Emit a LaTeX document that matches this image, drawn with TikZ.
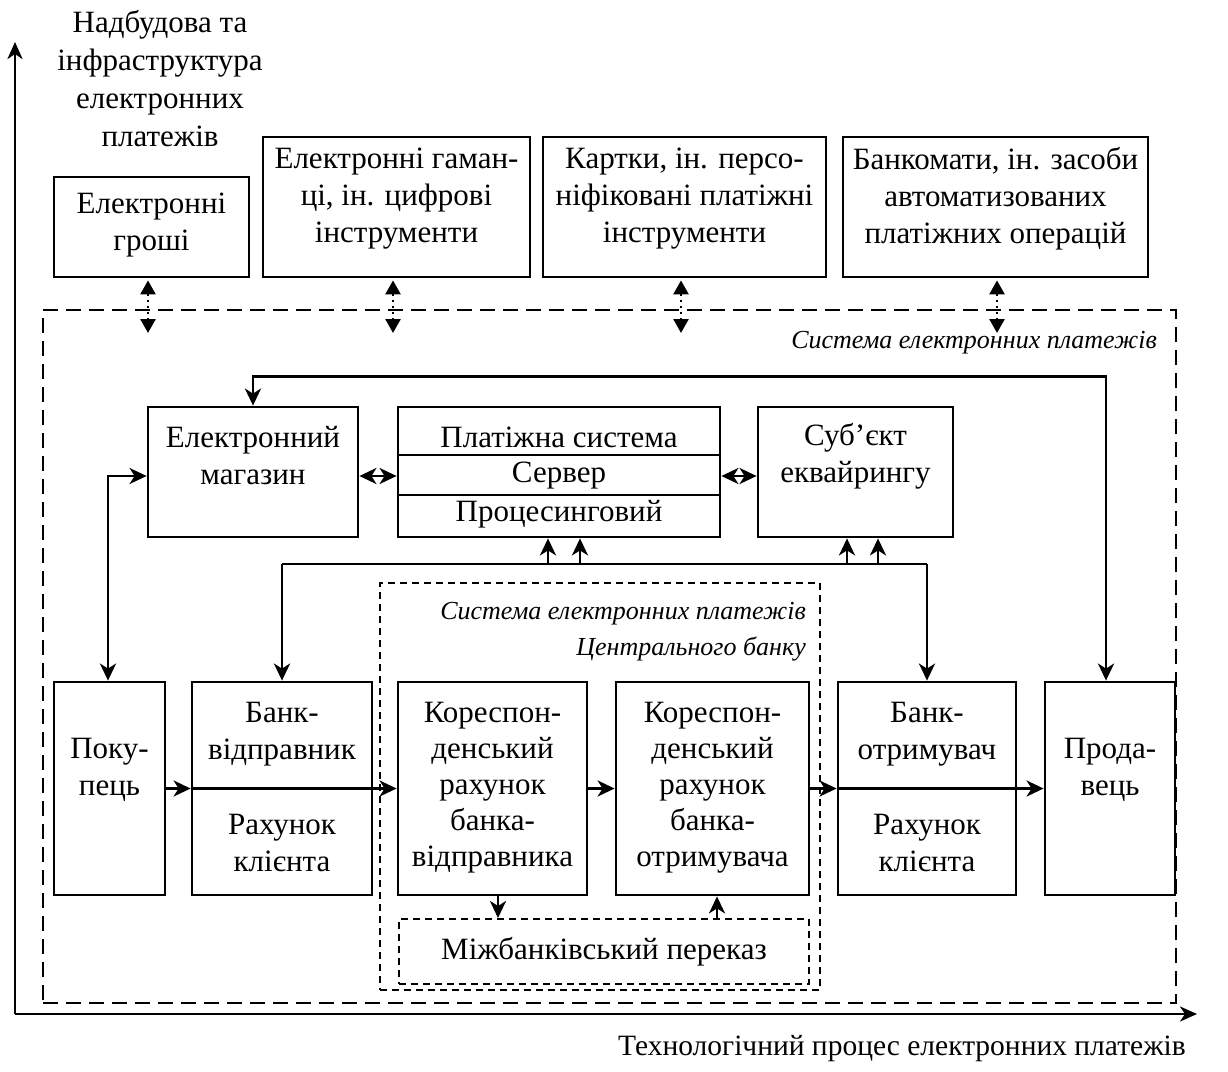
\documentclass[tikz,border=0pt]{standalone}
\usepackage{fontspec}
\setmainfont{Liberation Serif}
\usetikzlibrary{arrows.meta}
\begin{document}
\begin{tikzpicture}[x=1pt,y=-1pt,
  box/.style={draw,line width=2.8pt,inner sep=0pt},
  txt/.style={align=center,inner sep=0pt,font=\fontsize{31}{37}\selectfont},
  itxt/.style={align=right,inner sep=0pt,font=\fontsize{26}{36}\selectfont\itshape},
  arr/.style={line width=2.8pt,-{Stealth[length=17pt,width=16pt,inset=5pt]}},
  darr/.style={line width=2.8pt,{Stealth[length=17pt,width=16pt,inset=5pt]}-{Stealth[length=17pt,width=16pt,inset=5pt]}},
  dotarr/.style={line width=2.6pt,dash pattern=on 2pt off 4pt,{Triangle[length=14pt,width=15pt]}-{Triangle[length=14pt,width=15pt]}},
  bigdash/.style={draw,line width=2.6pt,dash pattern=on 15pt off 8pt,inner sep=0pt},
  smalldash/.style={draw,line width=2pt,dash pattern=on 7pt off 5pt,inner sep=0pt},
  axis/.style={line width=2.8pt,-{Stealth[length=17pt,width=15pt,inset=5pt]}}]
\useasboundingbox (0,0) rectangle (1228,1071);

% axes
\coordinate (O) at (15,1014);
\coordinate (Ytop) at (15,42);
\coordinate (Xend) at (1197,1014);
\draw[axis] (O) -- (Ytop);
\draw[axis] (O) -- (Xend);
\node[txt,font=\fontsize{31}{38}\selectfont] (ytitle) at (160,79) {Надбудова та\\інфраструктура\\електронних\\платежів};
\node[txt,anchor=east,font=\fontsize{29.5}{36}\selectfont] (xtitle) at (1186,1049) {Технологічний процес електронних платежів};

% top boxes
\node[box,minimum width=195pt,minimum height=100pt] (b1) at (151.5,227) {};
\node[txt] (b1t) at (151.5,225) {Електронні\\гроші};
\node[box,minimum width=267pt,minimum height=140pt] (b2) at (396.5,207) {};
\node[txt] (b2t) at (396.5,199) {Електронні гаман-\\ці, ін. цифрові\\інструменти};
\node[box,minimum width=283pt,minimum height=140pt] (b3) at (684.5,207) {};
\node[txt] (b3t) at (684.5,199) {Картки, ін. персо-\\ніфіковані платіжні\\інструменти};
\node[box,minimum width=305pt,minimum height=140pt] (b4) at (995.5,207) {};
\node[txt] (b4t) at (995.5,199) {Банкомати, ін. засоби\\автоматизованих\\платіжних операцій};

% outer system
\node[bigdash,minimum width=1133pt,minimum height=693pt] (sys) at (609.5,656.5) {};
\node[itxt,anchor=east] (syst) at (1157,343) {Система електронних платежів};

% dotted links
\coordinate (d1) at (148,333);
\coordinate (d2) at (393,333);
\coordinate (d3) at (681,333);
\coordinate (d4) at (997,333);
\draw[dotarr] ([xshift=-3.5pt,yshift=-2pt]b1.south) -- (d1);
\draw[dotarr] ([xshift=-3.5pt,yshift=-2pt]b2.south) -- (d2);
\draw[dotarr] ([xshift=-3.5pt,yshift=-2pt]b3.south) -- (d3);
\draw[dotarr] ([xshift=1.5pt,yshift=-2pt]b4.south) -- (d4);

% middle row
\node[box,minimum width=210pt,minimum height=130pt] (shop) at (253,472) {};
\node[txt] (shopt) at (253,456) {Електронний\\магазин};
\node[box,minimum width=322pt,minimum height=130pt] (ps) at (559,472) {};
\draw[line width=2.8pt] (ps.west |- 0,455) coordinate (psd1) -- (ps.east |- psd1);
\draw[line width=2.8pt] (ps.west |- 0,495) coordinate (psd2) -- (ps.east |- psd2);
\node[txt] (pst1) at (559,437) {Платіжна система};
\node[txt] (pst2) at (559,476) {Сервер};
\node[txt] (pst3) at (559,514) {Процесинговий};
\node[box,minimum width=195pt,minimum height=130pt] (acq) at (855.5,472) {};
\node[txt] (acqt) at (855.5,456) {Суб’єкт\\еквайрингу};

\draw[darr] ([yshift=-4pt]shop.east) -- ([yshift=-4pt]ps.west);
\draw[darr] ([yshift=-4pt]ps.east) -- ([yshift=-4pt]acq.west);

% central bank system
\node[smalldash,minimum width=440pt,minimum height=407pt] (cb) at (600,786.5) {};
\node[itxt,anchor=east] (cbt) at (806,632) {Система електронних платежів\\Центрального банку};

% bottom row
\node[box,minimum width=111pt,minimum height=213pt] (buyer) at (109.5,788.5) {};
\node[txt] (buyert) at (109.5,770) {Поку-\\пець};
\node[box,minimum width=180pt,minimum height=213pt] (sender) at (282,788.5) {};
\node[txt] (sendert1) at (282,734) {Банк-\\відправник};
\node[txt] (sendert2) at (282,843) {Рахунок\\клієнта};
\node[box,minimum width=189pt,minimum height=213pt] (corrS) at (492.5,788.5) {};
\node[txt,font=\fontsize{31}{36}\selectfont] (corrSt) at (492.5,788) {Кореспон-\\денський\\рахунок\\банка-\\відправника};
\node[box,minimum width=193pt,minimum height=213pt] (corrR) at (712.5,788.5) {};
\node[txt,font=\fontsize{31}{36}\selectfont] (corrRt) at (712.5,788) {Кореспон-\\денський\\рахунок\\банка-\\отримувача};
\node[box,minimum width=178pt,minimum height=213pt] (receiver) at (927,788.5) {};
\node[txt] (receivert1) at (927,734) {Банк-\\отримувач};
\node[txt] (receivert2) at (927,843) {Рахунок\\клієнта};
\node[box,minimum width=130pt,minimum height=213pt] (seller) at (1110,788.5) {};
\node[txt] (sellert) at (1110,770) {Прода-\\вець};

% dividers inside bank boxes
\draw[line width=2.8pt] (sender.west) -- (sender.east);
\draw[line width=2.8pt] (receiver.west) -- (receiver.east);

% horizontal flow
\draw[arr] (buyer.east) -- (sender.west);
\draw[arr] (sender.east) -- (corrS.west);
\draw[arr] (corrS.east) -- (corrR.west);
\draw[arr] (corrR.east) -- (receiver.west);
\draw[arr] (receiver.east) -- (seller.west);

% interbank transfer
\node[smalldash,minimum width=410pt,minimum height=65pt] (ib) at (604,951.5) {};
\node[txt] (ibt) at (604,952) {Міжбанківський переказ};
\draw[arr] ([xshift=5.5pt]corrS.south) -- ([xshift=5.5pt]corrS.south |- ib.north);
\draw[arr] ([xshift=4.5pt]corrR.south |- ib.north) -- ([xshift=4.5pt]corrR.south);

% feedback line on top
\draw[darr] (shop.north) -- ++(0,-29) -| ([xshift=-4pt]seller.north);
% buyer to shop
\draw[darr] ([xshift=-1.5pt]buyer.north) |- ([yshift=-4pt]shop.west);

% bus
\coordinate (busL) at (282,564);
\coordinate (busR) at (927,564);
\draw[line width=2.8pt] (busL) -- (busR);
\draw[arr] (busL) -- (sender.north);
\draw[arr] (busR) -- (receiver.north);
\draw[arr] ([xshift=-11pt]ps.south |- busL) -- ([xshift=-11pt]ps.south);
\draw[arr] ([xshift=21pt]ps.south |- busL) -- ([xshift=21pt]ps.south);
\draw[arr] ([xshift=-8.5pt]acq.south |- busL) -- ([xshift=-8.5pt]acq.south);
\draw[arr] ([xshift=22.5pt]acq.south |- busL) -- ([xshift=22.5pt]acq.south);
\end{tikzpicture}
\end{document}
